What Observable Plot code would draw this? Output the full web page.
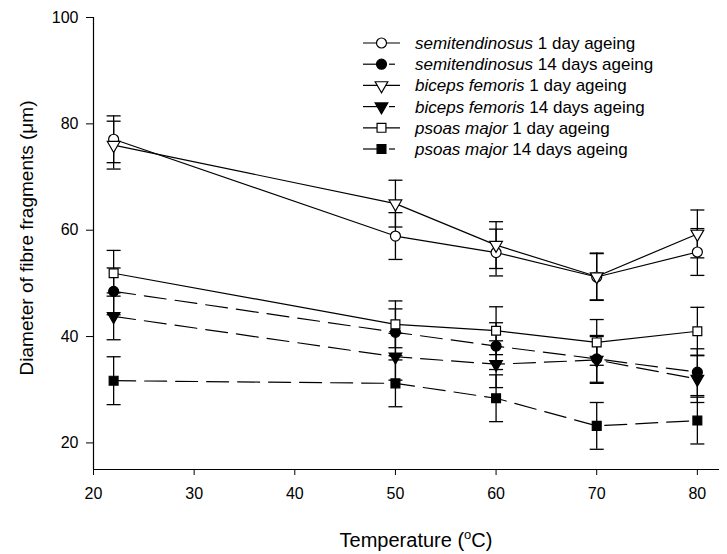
<!DOCTYPE html>
<html><head><meta charset="utf-8">
<script src="https://cdn.jsdelivr.net/npm/d3@7"></script>
<script src="https://cdn.jsdelivr.net/npm/@observablehq/plot@0.6"></script>
<style>
body{margin:0;background:#fff;}
#chart{position:relative;width:727px;height:554px;font-family:"Liberation Sans",Arial,sans-serif;}
</style></head><body><div id="chart"></div>
<script>
// ---- data ----
const temperatures = [22, 50, 60, 70, 80];
const xTicks = [20, 30, 40, 50, 60, 70, 80];
const yTicks = [20, 40, 60, 80, 100];

const stDay1   = [77.1, 58.9, 55.8, 51.2, 55.9];
const stDay1Err = [4.4, 4.4, 4.4, 4.4, 4.4];
const stDay14  = [48.5, 40.8, 38.2, 35.8, 33.3];
const stDay14Err = [4.4, 4.4, 4.4, 4.4, 4.4];
const bfDay1   = [76.0, 65.0, 57.2, 51.3, 59.3];
const bfDay1Err = [4.5, 4.4, 4.4, 4.4, 4.5];
const bfDay14  = [43.8, 36.2, 34.8, 35.6, 32.0];
const bfDay14Err = [4.4, 4.4, 4.4, 4.4, 4.4];
const pmDay1   = [51.9, 42.3, 41.1, 38.9, 41.0];
const pmDay1Err = [4.3, 4.4, 4.5, 4.3, 4.5];
const pmDay14  = [31.7, 31.2, 28.4, 23.2, 24.2];
const pmDay14Err = [4.5, 4.4, 4.4, 4.4, 4.4];

const muscles = ["semitendinosus", "semitendinosus", "biceps femoris", "biceps femoris", "psoas major", "psoas major"];
const ageing = ["1 day ageing", "14 days ageing", "1 day ageing", "14 days ageing", "1 day ageing", "14 days ageing"];

// ---- styles ----
const series = [
  {values: stDay1,  err: stDay1Err,  symbol: "circle",   fill: "white", dashed: false, rotate: 0},
  {values: stDay14, err: stDay14Err, symbol: "circle",   fill: "black", dashed: true,  rotate: 0},
  {values: bfDay1,  err: bfDay1Err,  symbol: "triangle", fill: "white", dashed: false, rotate: 180},
  {values: bfDay14, err: bfDay14Err, symbol: "triangle", fill: "black", dashed: true,  rotate: 180},
  {values: pmDay1,  err: pmDay1Err,  symbol: "square",   fill: "white", dashed: false, rotate: 0},
  {values: pmDay14, err: pmDay14Err, symbol: "square",   fill: "black", dashed: true,  rotate: 0}
].map((s, i) => ({...s, muscle: muscles[i], age: ageing[i],
  rows: temperatures.map((t, j) => ({t, v: s.values[j], lo: s.values[j] - s.err[j], hi: s.values[j] + s.err[j]}))}));

const capSymbol = {draw(ctx, size) { const w = Math.sqrt(size / Math.PI); ctx.moveTo(-w, 0); ctx.lineTo(w, 0); }};
const symR = {circle: 5, triangle: 4.7, square: 5};

const marks = [];
marks.push(Plot.ruleY([15], {stroke: "black", strokeWidth: 1.2}));
marks.push(Plot.ruleX([20], {stroke: "black", strokeWidth: 1.2}));
for (const s of series) {
  marks.push(Plot.ruleX(s.rows, {x: "t", y1: "lo", y2: "hi", stroke: "black", strokeWidth: 1.3}));
  marks.push(Plot.dot(s.rows, {x: "t", y: "lo", symbol: capSymbol, r: 7, stroke: "black", strokeWidth: 1.3, fill: "none"}));
  marks.push(Plot.dot(s.rows, {x: "t", y: "hi", symbol: capSymbol, r: 7, stroke: "black", strokeWidth: 1.3, fill: "none"}));
}
for (const s of series) {
  marks.push(Plot.line(s.rows, {x: "t", y: "v", stroke: "black", strokeWidth: 1.2, strokeDasharray: s.dashed ? "22,9" : null}));
}
for (const s of series) {
  marks.push(Plot.dot(s.rows, {x: "t", y: "v", symbol: s.symbol, r: symR[s.symbol], rotate: s.rotate, fill: s.fill, stroke: "black", strokeWidth: 1.2}));
}

const plot = Plot.plot({
  width: 727, height: 554,
  marginLeft: 93, marginRight: 8, marginTop: 17, marginBottom: 85,
  style: {fontFamily: '"Liberation Sans", Arial, sans-serif', fontSize: "16px", background: "white", color: "black"},
  x: {domain: [20, 82.2], ticks: xTicks, tickSize: 6, tickPadding: 12, label: null},
  y: {domain: [15, 100], ticks: yTicks, tickSize: 7, tickPadding: 8, label: null},
  marks
});
document.getElementById("chart").appendChild(plot);

// ---- titles and legend ----
const svg = d3.select(plot);
svg.append("text")
  .attr("transform", "translate(26.5,238) rotate(-90)")
  .attr("text-anchor", "middle").attr("dominant-baseline", "central")
  .attr("font-size", 19).attr("fill", "black")
  .text("Diameter of fibre fragments (\u03bcm)");
const xt = svg.append("text").attr("x", 416).attr("y", 547).attr("text-anchor", "middle")
  .attr("font-size", 20).attr("fill", "black");
xt.append("tspan").text("Temperature (");
xt.append("tspan").attr("dy", -8).attr("font-size", 13).text("o");
xt.append("tspan").attr("dy", 8).text("C)");

const lg = svg.append("g");
series.forEach((s, i) => {
  const y = 43 + i * 21.2;
  if (s.dashed) {
    lg.append("line").attr("x1", 363).attr("x2", 382).attr("y1", y).attr("y2", y).attr("stroke", "black").attr("stroke-width", 1.2);
    lg.append("line").attr("x1", 389).attr("x2", 395).attr("y1", y).attr("y2", y).attr("stroke", "black").attr("stroke-width", 1.2);
  } else {
    lg.append("line").attr("x1", 363).attr("x2", 400).attr("y1", y).attr("y2", y).attr("stroke", "black").attr("stroke-width", 1.2);
  }
  const symType = {circle: d3.symbolCircle, triangle: d3.symbolTriangle, square: d3.symbolSquare}[s.symbol];
  const r = symR[s.symbol];
  lg.append("path").attr("d", d3.symbol(symType, Math.PI * r * r)())
    .attr("transform", `translate(381.5,${y}) rotate(${s.rotate})`)
    .attr("fill", s.fill).attr("stroke", "black").attr("stroke-width", 1.2);
  const t = lg.append("text").attr("x", 415).attr("y", y).attr("dominant-baseline", "central")
    .attr("text-anchor", "start").attr("font-size", 17).attr("fill", "black");
  t.append("tspan").attr("font-style", "italic").text(s.muscle);
  t.append("tspan").text(" " + s.age);
});
</script>
</body></html>
